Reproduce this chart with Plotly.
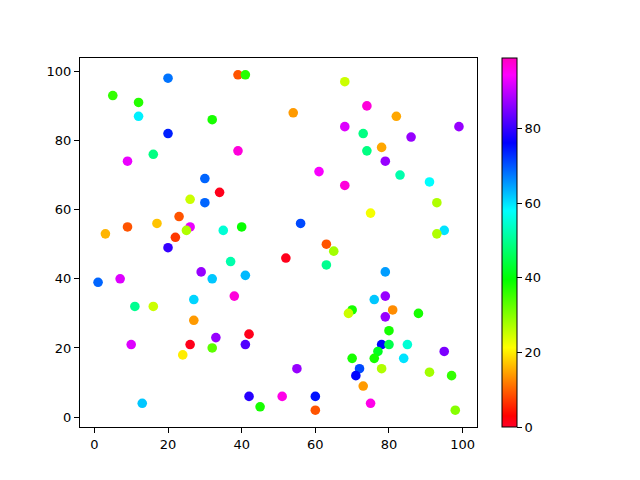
import plotly.graph_objects as go

# point positions and colour values
x = [39, 41, 20, 68, 5, 12, 74, 54, 82, 12, 32, 68, 99, 20, 73, 86, 78, 74, 16, 39,
     9, 79, 83, 61, 30, 68, 91, 34, 26, 30, 93, 23, 75, 35, 40, 17, 26, 25, 3, 9,
     56, 95, 93, 22, 20, 63, 65, 52, 63, 37, 1, 7, 41, 79, 29, 11, 16, 27, 32, 27,
     10, 26, 32, 24, 13, 38, 33, 42, 41, 55, 42, 45, 51, 60, 60, 76, 79, 70, 69, 81,
     79, 88, 80, 78, 80, 85, 77, 95, 70, 76, 84, 78, 91, 97, 72, 71, 73, 75, 98]
y = [99, 99, 98, 97, 93, 91, 90, 88, 87, 87, 86, 84, 84, 82, 82, 81, 78, 77, 76, 77,
     74, 74, 70, 71, 69, 67, 68, 65, 63, 62, 62, 58, 59, 54, 55, 56, 55, 54, 53, 55,
     56, 54, 53, 52, 49, 50, 48, 46, 44, 45, 39, 40, 41, 42, 42, 32, 32, 34, 40, 28,
     21, 21, 20, 18, 4, 35, 23, 24, 21, 14, 6, 3, 6, 6, 2, 34, 35, 31, 30, 31,
     29, 30, 25, 21, 21, 21, 19, 19, 17, 17, 17, 14, 13, 12, 14, 12, 9, 4, 2]
c = [9, 37, 68, 25, 36, 37, 97, 14, 15, 59, 38, 92, 87, 74, 49, 87, 15, 49, 49, 97,
     93, 87, 52, 94, 69, 97, 58, 1, 25, 69, 27, 9, 22, 55, 39, 17, 93, 27, 16, 9,
     71, 60, 27, 7, 80, 9, 28, 1, 50, 52, 69, 92, 63, 65, 87, 50, 25, 61, 62, 14,
     92, 1, 33, 20, 62, 97, 87, 1, 82, 87, 79, 38, 96, 75, 9, 62, 87, 38, 25, 13,
     87, 38, 38, 76, 45, 55, 42, 85, 38, 38, 60, 27, 28, 36, 71, 76, 14, 96, 30]

# matplotlib gist_rainbow
gist_rainbow = [
    [0.000, "rgb(255,0,41)"],
    [0.030, "rgb(255,0,0)"],
    [0.215, "rgb(255,255,0)"],
    [0.400, "rgb(0,255,0)"],
    [0.586, "rgb(0,255,255)"],
    [0.770, "rgb(0,0,255)"],
    [0.954, "rgb(255,0,255)"],
    [1.000, "rgb(255,0,191)"],
]

fig = go.Figure()
fig.add_trace(go.Scatter(
    x=x, y=y, mode="markers",
    marker=dict(size=9.6, color=c, colorscale=gist_rainbow, cmin=0, cmax=99,
                line=dict(width=0),
                colorbar=dict(x=1.063, xanchor="left", y=0.5, yanchor="middle",
                              len=1, lenmode="fraction", thickness=15,
                              xpad=0, ypad=0,
                              outlinewidth=1, outlinecolor="black",
                              tickvals=[0, 20, 40, 60, 80], ticks="outside",
                              ticklen=5, tickcolor="black",
                              tickfont=dict(family="DejaVu Sans", size=13, color="black"))),
    showlegend=False,
))

axis = dict(showgrid=False, zeroline=False, showline=True, linecolor="black",
            linewidth=1, mirror=True, ticks="outside", ticklen=5, tickcolor="black",
            tickfont=dict(family="DejaVu Sans", size=13, color="black"))
fig.update_xaxes(axis, range=[-3.9, 103.9], tickvals=[0, 20, 40, 60, 80, 100])
fig.update_yaxes(axis, range=[-2.85, 103.85], tickvals=[0, 20, 40, 60, 80, 100])

# page body adds an 8px offset, so margins are shifted to compensate
fig.update_layout(width=640, height=480, plot_bgcolor="white", paper_bgcolor="white",
                  margin=dict(l=72, r=171, t=50, b=61))

fig.write_html("out.html")
